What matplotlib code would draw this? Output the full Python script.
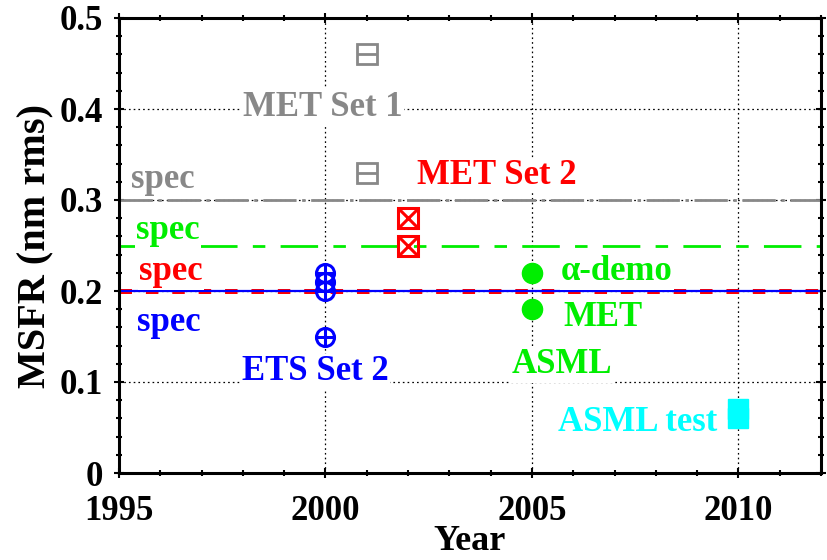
import matplotlib
matplotlib.use("Agg")
import matplotlib.pyplot as plt
from matplotlib.ticker import MultipleLocator

plt.rcParams['font.family'] = ['Liberation Serif', 'DejaVu Serif']
plt.rcParams['font.weight'] = 'bold'
plt.rcParams['lines.scale_dashes'] = False

# data
met1_x = [2001, 2001]
met1_y = [0.46, 0.33]
met2_x = [2002, 2002]
met2_y = [0.28, 0.25]
ets_x = [2000, 2000, 2000, 2000]
ets_y = [0.22, 0.21, 0.20, 0.15]
asml_x = [2005, 2005]
asml_y = [0.22, 0.18]
asml_test_x = [2010, 2010]
asml_test_y = [0.06, 0.07]
spec_gray = 0.30
spec_green = 0.25
spec_red = 0.20
spec_blue = 0.20

xticks = [1995, 2000, 2005, 2010]
yticks = [0, 0.1, 0.2, 0.3, 0.4, 0.5]
ytick_labels = ['0', '0.1', '0.2', '0.3', '0.4', '0.5']

GRAY = '#888888'
GREEN = '#00ee00'
RED = '#ff0000'
BLUE = '#0000ff'
CYAN = '#00ffff'

fig = plt.figure(figsize=(8.27, 5.6), dpi=100)
ax = fig.add_axes([119/827, 1-473/560, (821-119)/827, (473-18)/560])
ax.set_xlim(1995, 2012)
ax.set_ylim(0, 0.5)

# grid
ax.set_axisbelow(True)
ax.grid(True, which='major', color='black', linestyle=(0, (1.2, 2.2)), linewidth=0.9)

# spec lines
ax.axhline(spec_gray, color=GRAY, linewidth=2.0, linestyle=(0, (24, 4, 2.5, 4)), zorder=2)
ax.axhline(spec_green, color=GREEN, linewidth=2.0, linestyle=(0, (27, 11, 9, 11)), zorder=2)
ax.axhline(spec_red, color=RED, linewidth=3.6, linestyle=(0, (9, 10)), zorder=2)
ax.axhline(spec_blue, color=BLUE, linewidth=1.6, zorder=2.1)

# markers
ms_sq = 14
ax.plot(met1_x, met1_y, linestyle='none', marker='s', ms=ms_sq, mfc='none', mec=GRAY, mew=2, zorder=4)
ax.plot(met1_x, met1_y, linestyle='none', marker='_', ms=ms_sq, mec=GRAY, mew=2, zorder=4)
ax.plot(met2_x, met2_y, linestyle='none', marker='s', ms=ms_sq, mfc='none', mec=RED, mew=2.2, zorder=4)
ax.plot(met2_x, met2_y, linestyle='none', marker='x', ms=ms_sq, mec=RED, mew=2.2, zorder=4)
ax.plot(ets_x, ets_y, linestyle='none', marker='o', ms=13, mfc='none', mec=BLUE, mew=2.2, zorder=4)
ax.plot(ets_x, ets_y, linestyle='none', marker='+', ms=13, mec=BLUE, mew=2.2, zorder=4)
ax.plot(asml_x, asml_y, linestyle='none', marker='o', ms=14.5, mfc=GREEN, mec=GREEN, zorder=4)
ax.plot(asml_test_x, asml_test_y, linestyle='none', marker='s', ms=14.4, mfc=CYAN, mec=CYAN, zorder=4)

# labels
fs = 25
box = dict(facecolor='white', edgecolor='none', pad=1.0)
labels = [
    ("MET Set 1", 1999.94, 0.402, GRAY),
    ("spec", 1996.07, 0.322, GRAY),
    ("MET Set 2", 2004.15, 0.327, RED),
    ("spec", 1996.19, 0.267, GREEN),
    ("spec", 1996.26, 0.221, RED),
    ("\u03b1-demo", 2007.06, 0.221, GREEN),
    ("spec", 1996.21, 0.165, BLUE),
    ("MET", 2006.72, 0.171, GREEN),
    ("ETS Set 2", 1999.75, 0.111, BLUE),
    ("ASML", 2005.73, 0.119, GREEN),
    ("ASML test", 2007.57, 0.056, CYAN),
]
for txt, x, y, c in labels:
    ax.text(x, y, txt, color=c, fontsize=fs, fontweight='bold', ha='center', va='center',
            bbox=box, zorder=3)

# axes styling
for s in ax.spines.values():
    s.set_linewidth(2.2)
ax.set_xticks(xticks)
ax.set_yticks(yticks)
ax.set_yticklabels(ytick_labels)
ax.xaxis.set_minor_locator(MultipleLocator(1))
ax.yaxis.set_minor_locator(MultipleLocator(0.02))
ax.tick_params(which='both', direction='inout', top=True, right=True, labelsize=25, width=1.5)
ax.tick_params(which='major', length=7, pad=8)
ax.tick_params(axis='x', which='major', pad=12)
ax.tick_params(which='minor', length=4)
for lab in ax.get_xticklabels() + ax.get_yticklabels():
    lab.set_fontweight('bold')

ax.set_xlabel('Year', fontsize=26, fontweight='bold', labelpad=-2)
ax.set_ylabel('MSFR (nm rms)', fontsize=29, fontweight='bold', labelpad=4)

fig.savefig('out.png', dpi=100)
